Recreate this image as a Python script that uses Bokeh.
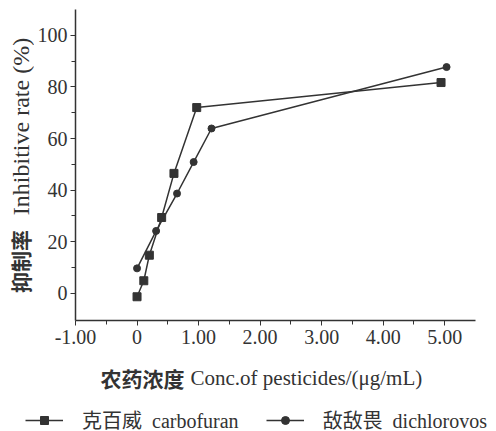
import math
from bokeh.plotting import figure
from bokeh.layouts import column, row
from bokeh.models import (ColumnDataSource, FixedTicker, Label, Legend, LegendItem, Range1d)
from bokeh.embed import file_html
from bokeh.resources import INLINE

# ---- data ----
carbofuran_x = [0.0, 0.11, 0.20, 0.40, 0.60, 0.97, 4.94]
carbofuran_y = [-1.3, 4.9, 14.8, 29.4, 46.5, 72.0, 81.7]
dichlorvos_x = [0.0, 0.31, 0.65, 0.92, 1.21, 5.03]
dichlorvos_y = [9.7, 24.2, 38.7, 50.9, 63.9, 87.7]

x_ticks = [-1, 0, 1, 2, 3, 4, 5]
x_tick_labels = ["-1.00", "0", "1.00", "2.00", "3.00", "4.00", "5.00"]
x_minor = [-0.5, 0.5, 1.5, 2.5, 3.5, 4.5]
y_ticks = [0, 20, 40, 60, 80, 100]
y_minor = [10, 30, 50, 70, 90]

series_names = ["克百威  carbofuran", "敌敌畏  dichlorovos"]
xlabel_cn = "农药浓度"
xlabel_en = "Conc.of pesticides/(μg/mL)"
ylabel_cn = "抑制率"
ylabel_en = "Inhibitive rate (%)"

INK = "#333333"
SERIF = "Liberation Serif, Noto Sans CJK SC"
CJK = "Noto Sans CJK SC"

W, H = 496, 431
LEFT_W = 34          # strip for the y-axis title
MAIN_H = 355         # height of the plotting figure
BOTTOM_H = H - MAIN_H


def bare(width, height):
    # a frame-only figure whose view is far away from the data
    f = figure(width=width, height=height, output_backend="svg", toolbar_location=None,
               x_range=Range1d(1000, 1001), y_range=Range1d(1000, 1001),
               x_axis_location=None, y_axis_location=None,
               min_border_left=0, min_border_right=0, min_border_top=0, min_border_bottom=0)
    f.outline_line_color = None
    f.grid.visible = False
    f.background_fill_color = "white"
    f.border_fill_color = "white"
    return f


# ---- main plot ----
p = figure(width=W - LEFT_W, height=MAIN_H, output_backend="svg", toolbar_location=None,
           x_range=Range1d(-1.0, 5.5), y_range=Range1d(-10.5, 110),
           min_border_left=40, min_border_right=21, min_border_top=9,
           min_border_bottom=MAIN_H - 320)
p.outline_line_color = None
p.grid.visible = False
p.background_fill_color = "white"
p.border_fill_color = "white"

for ax in (p.xaxis[0], p.yaxis[0]):
    ax.axis_line_color = INK
    ax.axis_line_width = 1.5
    ax.major_tick_line_color = INK
    ax.minor_tick_line_color = INK
    ax.major_tick_out = 5
    ax.major_tick_in = 0
    ax.minor_tick_out = 4
    ax.minor_tick_in = 0
    ax.major_label_text_font = SERIF
    ax.major_label_text_font_size = "20px"
    ax.major_label_text_color = INK

p.xaxis.ticker = FixedTicker(ticks=x_ticks, minor_ticks=x_minor)
p.xaxis.major_label_overrides = {t: l for t, l in zip(x_ticks, x_tick_labels)}
p.xaxis.major_label_standoff = 4
p.yaxis.ticker = FixedTicker(ticks=y_ticks, minor_ticks=y_minor)
p.yaxis.major_label_standoff = 3

src_c = ColumnDataSource(dict(x=carbofuran_x, y=carbofuran_y))
src_d = ColumnDataSource(dict(x=dichlorvos_x, y=dichlorvos_y))

line_style = dict(line_color=INK, line_width=1.5)
sq_style = dict(marker="square", size=8, fill_color=INK, line_color=INK)
ci_style = dict(marker="circle", size=7, fill_color=INK, line_color=INK)

p.line("x", "y", source=src_c, **line_style)
p.scatter("x", "y", source=src_c, **sq_style)
p.line("x", "y", source=src_d, **line_style)
p.scatter("x", "y", source=src_d, **ci_style)

# ---- left strip: y-axis title ----
lf = bare(LEFT_W, MAIN_H)
lf.add_layout(Label(x=19, y=MAIN_H - 262 - 34, x_units="screen", y_units="screen",
                    text=ylabel_cn, text_font=CJK, text_font_size="21px", text_font_style="bold",
                    text_color=INK, text_baseline="middle", text_align="center",
                    angle=math.pi / 2))
lf.add_layout(Label(x=20, y=MAIN_H - 130 - 31, x_units="screen", y_units="screen",
                    text=ylabel_en, text_font=SERIF, text_font_size="24px",
                    text_color=INK, text_baseline="middle", text_align="center",
                    angle=math.pi / 2))

# ---- bottom strip: x-axis title and legend ----
bf = bare(W, BOTTOM_H)
bf.add_layout(Label(x=100, y=BOTTOM_H - (377 - MAIN_H), x_units="screen", y_units="screen",
                    text=xlabel_cn, text_font=CJK, text_font_size="21px", text_font_style="bold",
                    text_color=INK, text_baseline="middle", text_align="left"))
bf.add_layout(Label(x=190, y=BOTTOM_H - (377 - MAIN_H), x_units="screen", y_units="screen",
                    text=xlabel_en, text_font=SERIF, text_font_size="21px",
                    text_color=INK, text_baseline="middle", text_align="left"))

# legend renderers share the data but sit outside this strip's view
k1 = bf.line("x", "y", source=src_c, **line_style)
k2 = bf.scatter("x", "y", source=src_c, marker="square", size=6, fill_color=INK, line_color=INK)
k3 = bf.line("x", "y", source=src_d, **line_style)
k4 = bf.scatter("x", "y", source=src_d, marker="circle", size=5, fill_color=INK, line_color=INK)

legend = Legend(items=[LegendItem(label=series_names[0], renderers=[k1, k2]),
                       LegendItem(label=series_names[1], renderers=[k3, k4])],
                orientation="horizontal", location=(25, -3),
                label_text_font=SERIF, label_text_font_size="20px", label_text_color=INK,
                glyph_width=38, glyph_height=20, label_standoff=19, spacing=27,
                padding=0, margin=0, border_line_color=None, background_fill_alpha=0)
bf.add_layout(legend, "center")

layout = column(row(lf, p, spacing=0), bf, spacing=0)

open("out.html", "w").write(file_html(layout, INLINE))
